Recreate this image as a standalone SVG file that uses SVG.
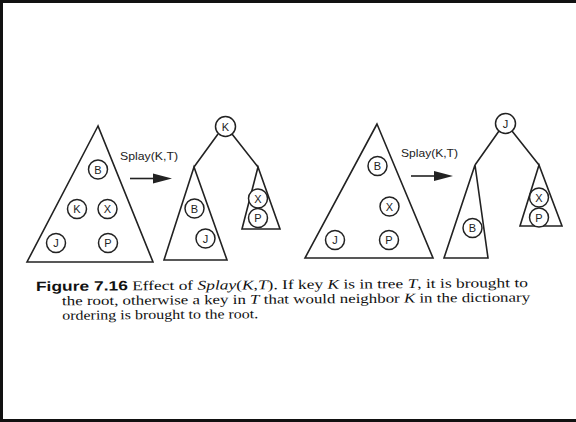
<svg xmlns="http://www.w3.org/2000/svg" width="576" height="422" viewBox="0 0 576 422">
<style>
.tri{fill:none;stroke:#222;stroke-width:1.6;stroke-linejoin:miter}
.edge{fill:none;stroke:#222;stroke-width:1.6}
.nd circle{fill:#fff;stroke:#222;stroke-width:1.5}
.nd text{font-family:"Liberation Sans",Arial,sans-serif;font-size:11px;fill:#222;text-anchor:middle}
.lbl{font-family:"Liberation Sans",Arial,sans-serif;font-size:11.5px;fill:#222}
.cap{font-family:"Liberation Serif","Times New Roman",serif;font-size:13.4px;fill:#111}
.capb{font-family:"Liberation Sans",Arial,sans-serif;font-weight:bold;font-size:13.4px}
</style>
<rect x="0" y="0" width="576" height="422" fill="#fff"/>
<path d="M1.5 422 V1.5 H576 M0 420.5 H576" fill="none" stroke="#111" stroke-width="3"/>

<g id="connectors">
<path class="tri" d="M98 126 L27 262 L153 262 Z"/>
<path class="tri" d="M194 167 L164 260 L227 260 Z"/>
<path class="tri" d="M258 167 L242 229 L280 229 Z"/>
<path class="edge" d="M218 134 L194 167 M232 134 L258 167"/>
<path class="edge" d="M130 178.5 H154"/>
<path d="M153 173.5 L172 178.5 L153 183.5 Z" fill="#222"/>

<path class="tri" d="M377 124 L305 258 L433 258 Z"/>
<path class="tri" d="M475 165 L444 258 L488 258 Z"/>
<path class="tri" d="M539 165 L520 226 L562 226 Z"/>
<path class="edge" d="M499 131 L475 165 M512 131 L539 165"/>
<path class="edge" d="M411 176 H435"/>
<path d="M434 171 L453 176 L434 181 Z" fill="#222"/>
</g>

<text class="lbl" x="120" y="160" textLength="58" lengthAdjust="spacingAndGlyphs">Splay(K,T)</text>
<text class="lbl" x="401" y="157" textLength="57" lengthAdjust="spacingAndGlyphs">Splay(K,T)</text>

<g id="t1-B" class="nd"><circle cx="98" cy="169.5" r="9.5"/><text x="98" y="173.5">B</text></g>
<g id="t1-K" class="nd"><circle cx="77" cy="209" r="9.5"/><text x="77" y="213">K</text></g>
<g id="t1-X" class="nd"><circle cx="107.5" cy="209" r="9.5"/><text x="107.5" y="213">X</text></g>
<g id="t1-J" class="nd"><circle cx="56" cy="243" r="9.5"/><text x="56" y="247">J</text></g>
<g id="t1-P" class="nd"><circle cx="108" cy="243" r="9.5"/><text x="108" y="247">P</text></g>

<g id="r1-K" class="nd"><circle cx="225.5" cy="126.5" r="10"/><text x="225.5" y="130.5">K</text></g>
<g id="r1-B" class="nd"><circle cx="194.5" cy="208.5" r="9.5"/><text x="194.5" y="212.5">B</text></g>
<g id="r1-J" class="nd"><circle cx="205.5" cy="238.5" r="9.5"/><text x="205.5" y="242.5">J</text></g>
<g id="r1-X" class="nd"><circle cx="258" cy="198.5" r="9.5"/><text x="258" y="202.5">X</text></g>
<g id="r1-P" class="nd"><circle cx="258" cy="218" r="9.5"/><text x="258" y="222">P</text></g>

<g id="t2-B" class="nd"><circle cx="377.5" cy="166" r="9.5"/><text x="377.5" y="170">B</text></g>
<g id="t2-X" class="nd"><circle cx="389.5" cy="206.5" r="9.5"/><text x="389.5" y="210.5">X</text></g>
<g id="t2-J" class="nd"><circle cx="335" cy="240" r="9.5"/><text x="335" y="244">J</text></g>
<g id="t2-P" class="nd"><circle cx="389" cy="240" r="9.5"/><text x="389" y="244">P</text></g>

<g id="r2-J" class="nd"><circle cx="505.5" cy="123.5" r="10"/><text x="505.5" y="127.5">J</text></g>
<g id="r2-B" class="nd"><circle cx="472.5" cy="228" r="9.5"/><text x="472.5" y="232">B</text></g>
<g id="r2-X" class="nd"><circle cx="539" cy="197.5" r="9.5"/><text x="539" y="201.5">X</text></g>
<g id="r2-P" class="nd"><circle cx="539" cy="217.5" r="9.5"/><text x="539" y="221.5">P</text></g>

<g transform="rotate(-0.45 36 291)">
<text class="cap" x="36" y="291" textLength="492" lengthAdjust="spacingAndGlyphs"><tspan class="capb">Figure 7.16</tspan> Effect of <tspan font-style="italic">Splay</tspan>(<tspan font-style="italic">K</tspan>,<tspan font-style="italic">T</tspan>). If key <tspan font-style="italic">K</tspan> is in tree <tspan font-style="italic">T</tspan>, it is brought to</text>
<text class="cap" x="62" y="305.5" textLength="468" lengthAdjust="spacingAndGlyphs">the root, otherwise a key in <tspan font-style="italic">T</tspan> that would neighbor <tspan font-style="italic">K</tspan> in the dictionary</text>
<text class="cap" x="62" y="320" textLength="196" lengthAdjust="spacingAndGlyphs">ordering is brought to the root.</text>
</g>
</svg>
